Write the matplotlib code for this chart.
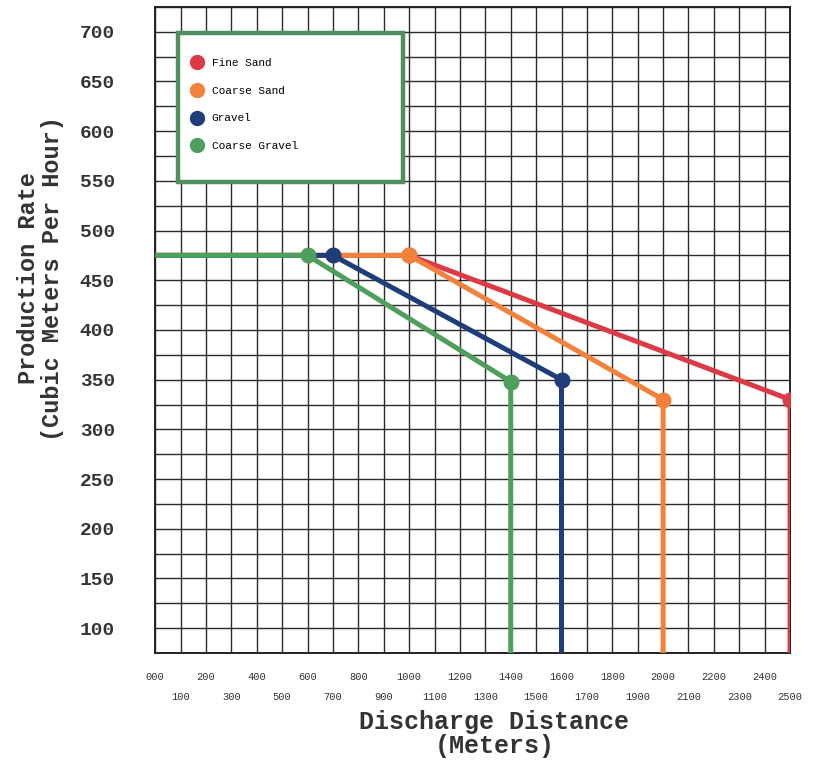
import matplotlib
matplotlib.use("Agg")
import matplotlib.pyplot as plt
from matplotlib.lines import Line2D
from matplotlib.patches import Rectangle

# data
materials = ["Fine Sand", "Coarse Sand", "Gravel", "Coarse Gravel"]
colors = ["#dc3a44", "#f2813c", "#1f3d78", "#4e9e5c"]
flat_rate = 475
break_dist = [1000, 1000, 700, 600]
end_dist = [2500, 2000, 1600, 1400]
end_rate = [330, 330, 350, 348]

x_even = list(range(0, 2401, 200))
x_odd = list(range(100, 2501, 200))
y_ticks = list(range(100, 701, 50))
y_min, y_max = 75, 725

mono = "Liberation Mono"

fig = plt.figure(figsize=(8.17, 7.62), dpi=100)
ax = fig.add_axes([0.19, 0.143, 0.777, 0.848])

for i in range(len(materials)):
    xs = [0, break_dist[i], end_dist[i], end_dist[i]]
    ys = [flat_rate, flat_rate, end_rate[i], y_min]
    ax.plot(xs, ys, color=colors[i], lw=3.6, marker="o", ms=10.5,
            markevery=[1, 2], solid_capstyle="butt", zorder=3 + i)

ax.set_xlim(0, 2500)
ax.set_ylim(y_min, y_max)

ax.set_xticks(x_even)
ax.set_xticklabels(["%03d" % v for v in x_even])
ax.set_xticks(x_odd, minor=True)
ax.set_xticklabels([str(v) for v in x_odd], minor=True)
ax.set_yticks(y_ticks)
ax.set_yticks(list(range(y_min, y_max + 1, 25)), minor=True)
ax.set_yticklabels([str(v) for v in y_ticks])

ax.tick_params(axis="x", which="major", length=0, pad=14, labelsize=7.5,
               labelcolor="#333333")
ax.tick_params(axis="x", which="minor", length=0, pad=28, labelsize=7.5,
               labelcolor="#333333")
ax.tick_params(axis="y", which="both", length=0, pad=29, labelsize=14,
               labelcolor="#333333")
for lab in ax.get_xticklabels() + ax.get_xticklabels(minor=True):
    lab.set_fontfamily(mono)
for lab in ax.get_yticklabels():
    lab.set_fontfamily(mono)
    lab.set_fontweight("bold")

ax.grid(True, which="both", color="#2b2b2b", lw=1.0)
ax.set_axisbelow(True)
for s in ax.spines.values():
    s.set_color("#222222")
    s.set_linewidth(1.4)

# legend box
ax.add_patch(Rectangle((0.036, 0.729), 0.354, 0.231, transform=ax.transAxes,
                       facecolor="white", edgecolor="#4f8f5f", lw=3.2,
                       zorder=10))
handles = [Line2D([], [], ls="none", marker="o", ms=10, color=c) for c in colors]
leg = ax.legend(handles, materials, loc="upper left",
                bbox_to_anchor=(0.054, 0.921), frameon=False, borderpad=0,
                borderaxespad=0, handlelength=1.4, handletextpad=0.6,
                labelspacing=1.6, prop={"family": mono, "size": 8})
leg.set_zorder(11)

fig.text(0.605, 0.037, "Discharge Distance\n(Meters)", ha="center",
         va="center", family=mono, fontsize=18, fontweight="bold",
         color="#333333", linespacing=1.0)
fig.text(0.05, 0.635, "Production Rate\n(Cubic Meters Per Hour)",
         ha="center", va="center", rotation=90, family=mono, fontsize=17,
         fontweight="bold", color="#333333", linespacing=1.05)

fig.savefig("out.png", dpi=100)
